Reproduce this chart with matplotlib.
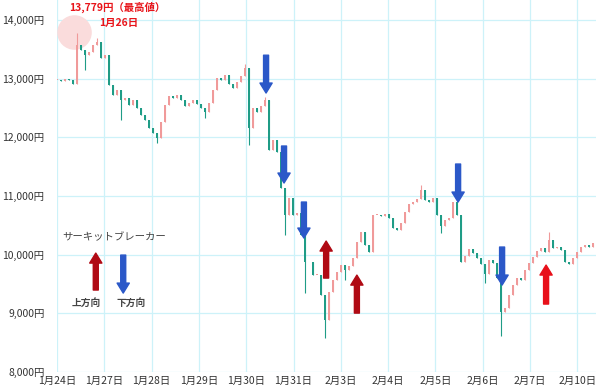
import numpy as np
import matplotlib.pyplot as plt

plt.rcParams['font.family'] = ['Noto Sans CJK JP', 'DejaVu Sans']

# date labels on the x axis (one gridline per trading day)
days = ['1月24日', '1月27日', '1月28日', '1月29日', '1月30日', '1月31日',
        '2月3日', '2月4日', '2月5日', '2月6日', '2月7日', '2月10日']
yticks = [8000, 9000, 10000, 11000, 12000, 13000, 14000]

# closing prices of each bar (yen)
close = [12980, 12960, 12990, 12980, 12910, 13570, 13490, 13400, 13450, 13570,
         13620, 13350, 13400, 12890, 12720, 12810, 12640, 12670, 12550, 12640,
         12500, 12380, 12300, 12160, 12070, 11990, 12260, 12550, 12700, 12670,
         12720, 12640, 12530, 12590, 12640, 12570, 12500, 12430, 12590, 12810,
         13010, 12980, 13060, 12910, 12840, 12940, 13050, 13180, 12160, 12500,
         12430, 12530, 12640, 11780, 11950, 11750, 11140, 10680, 10970, 10680,
         10710, 10330, 9870, 9870, 9650, 9650, 9310, 8890, 9360, 9570,
         9700, 9820, 9740, 9810, 9940, 10210, 10390, 10160, 10040, 10680,
         10680, 10660, 10690, 10620, 10450, 10420, 10540, 10730, 10860, 10900,
         10950, 11100, 10930, 10900, 10970, 10680, 10490, 10590, 10620, 10900,
         10680, 9870, 9980, 10100, 10030, 9940, 9840, 9670, 9910, 9860,
         9600, 9020, 9090, 9310, 9480, 9600, 9570, 9740, 9860, 9960,
         10060, 10110, 10040, 10250, 10110, 10130, 10080, 9870, 9840, 9940,
         10040, 10130, 10160, 10130, 10200]

# long wicks that stick out past the bodies
high_idx = [5, 10, 47, 52, 91, 123]
high_val = [13779, 13690, 13250, 12690, 11190, 10390]
low_idx = [7, 16, 25, 37, 48, 57, 62, 67, 72, 96, 107, 111]
low_val = [13150, 12300, 11900, 12330, 11870, 10330, 9350, 8580, 9570, 10370, 9520, 8610]

close = np.array(close, dtype=float)
opn = np.concatenate([[close[0]], close[:-1]])
high = np.maximum(opn, close)
low = np.minimum(opn, close)
for i, v in zip(high_idx, high_val):
    high[i] = max(high[i], v)
for i, v in zip(low_idx, low_val):
    low[i] = min(low[i], v)

step = 4 / 47.3          # bar spacing in day units
x = np.arange(len(close)) * step
up = close >= opn
col = np.where(up, '#f09a9a', '#1f9c86')

fig = plt.figure(figsize=(6, 3.89), dpi=100)
ax = fig.add_axes([57/600, 17/389, 539/600, 372/389])
ax.set_xlim(0, 539/47.3)
ax.set_ylim(8000, 14341)

ax.set_xticks(range(len(days)))
ax.set_xticklabels(days)
ax.set_yticks(yticks)
ax.set_yticklabels([f'{v:,}円' for v in yticks])
ax.tick_params(length=0, labelsize=7.5, colors='#333333')
ax.tick_params(axis='y', pad=9)
ax.tick_params(axis='x', pad=3)
ax.grid(color='#cdf2f9', lw=0.9)
ax.set_axisbelow(True)
for s in ax.spines.values():
    s.set_visible(False)

# highlight of the all-time high
ax.scatter([0.36], [13795], s=620, color='#fadcdc', zorder=1, lw=0)

ax.vlines(x, low, high, colors=col, lw=0.8, zorder=2)
body = np.maximum(np.abs(close - opn), 12)
ax.bar(x, body, bottom=np.minimum(opn, close), width=0.045, color=col, zorder=3, lw=0)

ap = 'simple,head_length=0.9,head_width=1.1,tail_width=0.45'
def arrow(xp, y0, y1, c):
    ax.annotate('', xy=(xp, y1), xytext=(xp, y0),
                arrowprops=dict(arrowstyle=ap, color=c, shrinkA=0, shrinkB=0,
                                mutation_scale=8), zorder=4)

blue = '#2b58c8'
arrow(4.42, 13400, 12755, blue)
arrow(4.80, 11852, 11221, blue)
arrow(5.22, 10897, 10283, blue)
arrow(8.48, 11545, 10897, blue)
arrow(9.41, 10130, 9482, blue)
arrow(1.40, 9993, 9345, blue)
arrow(5.69, 9601, 10232, '#b00a14')
arrow(6.34, 9004, 9652, '#b00a14')
arrow(10.34, 9158, 9823, '#e8101a')
arrow(0.82, 9397, 10027, '#b00a14')

ax.text(1.27, 14222, '13,779円（最高値）', color='#e8141a', fontsize=7.5,
        fontweight='bold', ha='center', va='center')
ax.text(1.31, 13949, '1月26日', color='#e8141a', fontsize=7.5,
        fontweight='bold', ha='center', va='center')
ax.text(1.21, 10300, 'サーキットブレーカー', color='#444444', fontsize=7.5,
        ha='center', va='center')
ax.text(0.61, 9175, '上方向', color='#444444', fontsize=7, fontweight='bold',
        ha='center', va='center')
ax.text(1.56, 9175, '下方向', color='#444444', fontsize=7, fontweight='bold',
        ha='center', va='center')

plt.savefig('out.png', dpi=100)
